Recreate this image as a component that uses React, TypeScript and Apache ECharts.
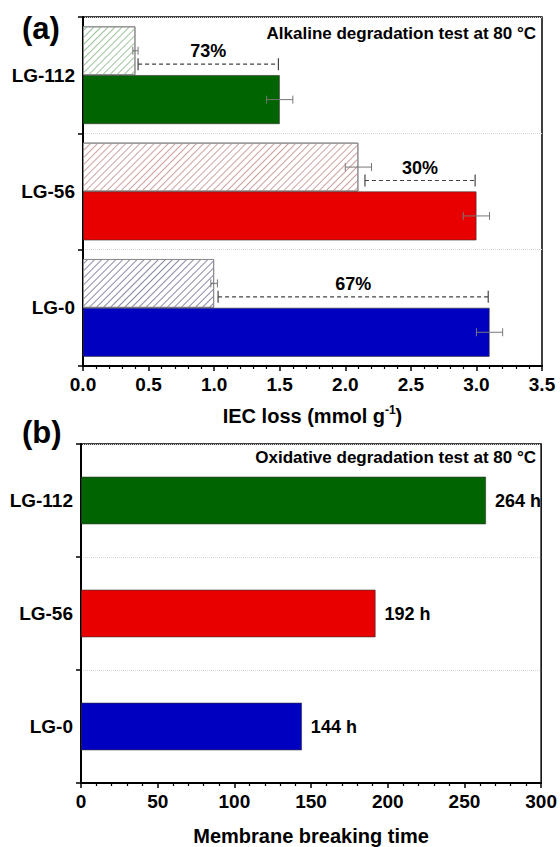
import React, { useEffect, useRef } from "react";
import * as echarts from "echarts";

// ---- data ----
const categories = ["LG-0", "LG-56", "LG-112"];
const iecLossInitial = [3.1, 3.0, 1.5]; // solid bars
const iecLossInitialErr = [0.1, 0.1, 0.1];
const iecLossAfter = [1.0, 2.1, 0.4]; // hatched bars
const iecLossAfterErr = [0.025, 0.1, 0.02];
const dashStart = [1.03, 2.15, 0.42];
const dashEnd = [3.09, 2.99, 1.49];
const pctLabels = ["67%", "30%", "73%"];
const breakTime = [144, 192, 264];
const xTicksA = { min: 0, max: 3.5, interval: 0.5 };
const xTicksB = { min: 0, max: 300, interval: 50 };

const solidColors = ["#0000C0", "#E80000", "#006400"];
const hatchColors = ["#8a8aa6", "#cfa0a0", "#9cc29c"];

const FONT = "'Liberation Sans', Arial, Helvetica, sans-serif";
const BAR_FRAC = 0.42;

export default function App() {
  const ref = useRef<HTMLDivElement>(null);
  useEffect(() => {
    if (!ref.current) return;
    const chart = echarts.init(ref.current, null, { renderer: "svg" });

    const axisLabelStyle = { fontFamily: FONT, fontWeight: "bold", fontSize: 18, color: "#000" };

    const xAxisCommon = (gridIndex: number) => ({
      gridIndex,
      type: "value",
      axisLine: { show: true, lineStyle: { color: "#000", width: 2 } },
      axisTick: { show: true, inside: false, length: 5, lineStyle: { color: "#000", width: 1.5 } },
      minorTick: { show: true, splitNumber: 5, length: 3, lineStyle: { color: "#000", width: 1.2 } },
      splitLine: { show: false },
      axisLabel: { ...axisLabelStyle, fontSize: 19, margin: 9 },
      nameLocation: "middle",
    });

    const yAxisCommon = (gridIndex: number) => ({
      gridIndex,
      type: "category",
      data: categories,
      axisLine: { show: true, lineStyle: { color: "#000", width: 2 } },
      axisTick: { show: true, inside: false, length: 5, lineStyle: { color: "#000", width: 1.5 } },
      axisLabel: { ...axisLabelStyle, fontSize: 19, margin: 8 },
      splitLine: { show: true, lineStyle: { color: "#d6d6d6", type: "dotted", width: 1 } },
    });

    const errData = categories.flatMap((_, i) => [
      [i, iecLossAfter[i], iecLossAfterErr[i], 0],
      [i, iecLossInitial[i], iecLossInitialErr[i], 1],
    ]);
    const dashData = categories.map((_, i) => [i, dashStart[i], dashEnd[i]]);

    const option: any = {
      animation: false,
      backgroundColor: "#fff",
      textStyle: { fontFamily: FONT },
      grid: [
        { left: 83, top: 17, width: 459, height: 349, show: true, borderColor: "#000", borderWidth: 1.5, backgroundColor: "transparent" },
        { left: 81, top: 444, width: 464, height: 350, show: true, borderColor: "#000", borderWidth: 1.5, backgroundColor: "transparent" },
      ],
      xAxis: [
        {
          ...xAxisCommon(0),
          min: xTicksA.min,
          max: xTicksA.max,
          interval: xTicksA.interval,
          axisLabel: { ...axisLabelStyle, fontSize: 19, margin: 9, formatter: (v: number) => v.toFixed(1) },
          name: "{a|IEC loss (mmol g}{s|-1}{a|)}",
          nameGap: 38,
          nameTextStyle: {
            rich: {
              a: { fontFamily: FONT, fontWeight: "bold", fontSize: 20, color: "#000", verticalAlign: "bottom" },
              s: { fontFamily: FONT, fontWeight: "bold", fontSize: 12, color: "#000", verticalAlign: "bottom", padding: [0, 0, 10, 0] },
            },
          },
        },
        {
          ...xAxisCommon(1),
          min: xTicksB.min,
          max: xTicksB.max,
          interval: xTicksB.interval,
          name: "Membrane breaking time",
          nameGap: 43,
          nameTextStyle: { fontFamily: FONT, fontWeight: "bold", fontSize: 20, color: "#000" },
        },
      ],
      yAxis: [yAxisCommon(0), yAxisCommon(1)],
      graphic: [
        { type: "text", left: 22, top: 13, style: { text: "(a)", font: `bold 31px ${FONT}`, fill: "#000" } },
        { type: "text", left: 22, top: 417, style: { text: "(b)", font: `bold 31px ${FONT}`, fill: "#000" } },
        { type: "text", right: 24, top: 25, style: { text: "Alkaline degradation test at 80 °C", font: `bold 17px ${FONT}`, fill: "#000" } },
        { type: "text", right: 24, top: 449, style: { text: "Oxidative degradation test at 80 °C", font: `bold 17px ${FONT}`, fill: "#000" } },
      ],
      series: [
        {
          name: "after",
          type: "bar",
          xAxisIndex: 0,
          yAxisIndex: 0,
          barWidth: `${BAR_FRAC * 100}%`,
          barGap: "0%",
          data: iecLossAfter.map((v, i) => ({
            value: v,
            itemStyle: {
              color: "#fff",
              borderColor: "#8c8c8c",
              borderWidth: 1,
              decal: {
                symbol: "rect",
                symbolSize: 1,
                dashArrayX: [1, 0],
                dashArrayY: [1, 4],
                rotation: -Math.PI / 4,
                color: hatchColors[i],
                backgroundColor: "rgba(0,0,0,0)",
              },
            },
          })),
        },
        {
          name: "before",
          type: "bar",
          xAxisIndex: 0,
          yAxisIndex: 0,
          barWidth: `${BAR_FRAC * 100}%`,
          barGap: "0%",
          data: iecLossInitial.map((v, i) => ({
            value: v,
            itemStyle: { color: solidColors[i], borderColor: "#333", borderWidth: 0.6 },
          })),
        },
        {
          name: "err",
          type: "custom",
          xAxisIndex: 0,
          yAxisIndex: 0,
          encode: { x: 1, y: 0 },
          data: errData,
          renderItem: (params: any, api: any) => {
            const ci = api.value(0);
            const v = api.value(1);
            const e = api.value(2);
            const w = api.value(3);
            const band = api.size([0, 1])[1];
            const c = api.coord([v, ci]);
            const y = c[1] + (w === 0 ? -1 : 1) * (BAR_FRAC / 2) * band;
            const x1 = api.coord([v - e, ci])[0];
            const x2 = api.coord([v + e, ci])[0];
            const st = { stroke: "#777", lineWidth: 1 };
            const cap = 4;
            return {
              type: "group",
              children: [
                { type: "line", shape: { x1, y1: y, x2, y2: y }, style: st },
                { type: "line", shape: { x1, y1: y - cap, x2: x1, y2: y + cap }, style: st },
                { type: "line", shape: { x1: x2, y1: y - cap, x2, y2: y + cap }, style: st },
              ],
            };
          },
          z: 5,
        },
        {
          name: "dash",
          type: "custom",
          xAxisIndex: 0,
          yAxisIndex: 0,
          encode: { x: [1, 2], y: 0 },
          data: dashData,
          renderItem: (params: any, api: any) => {
            const ci = api.value(0);
            const s = api.value(1);
            const e = api.value(2);
            const c1 = api.coord([s, ci]);
            const c2 = api.coord([e, ci]);
            const y = c1[1] - 11;
            const cap = 6;
            const st = { stroke: "#444", lineWidth: 1.2 };
            return {
              type: "group",
              children: [
                { type: "line", shape: { x1: c1[0], y1: y, x2: c2[0], y2: y }, style: { ...st, lineDash: [4, 3] } },
                { type: "line", shape: { x1: c1[0], y1: y - cap, x2: c1[0], y2: y + cap }, style: st },
                { type: "line", shape: { x1: c2[0], y1: y - cap, x2: c2[0], y2: y + cap }, style: st },
                {
                  type: "text",
                  x: (c1[0] + c2[0]) / 2,
                  y: y - 13,
                  style: {
                    text: pctLabels[ci],
                    font: `bold 18px ${FONT}`,
                    fill: "#000",
                    align: "center",
                    verticalAlign: "middle",
                  },
                },
              ],
            };
          },
          z: 5,
        },
        {
          name: "time",
          type: "bar",
          xAxisIndex: 1,
          yAxisIndex: 1,
          barWidth: `${BAR_FRAC * 100}%`,
          data: breakTime.map((v, i) => ({
            value: v,
            itemStyle: { color: solidColors[i], borderColor: "#333", borderWidth: 0.6 },
          })),
          label: {
            show: true,
            position: "right",
            distance: 9,
            formatter: "{c} h",
            fontFamily: FONT,
            fontWeight: "bold",
            fontSize: 18,
            color: "#000",
          },
        },
      ],
    };

    chart.setOption(option);
    return () => chart.dispose();
  }, []);

  return (
    <div
      ref={ref}
      style={{ position: "absolute", left: 0, top: 0, width: 560, height: 847, background: "#fff" }}
    />
  );
}
